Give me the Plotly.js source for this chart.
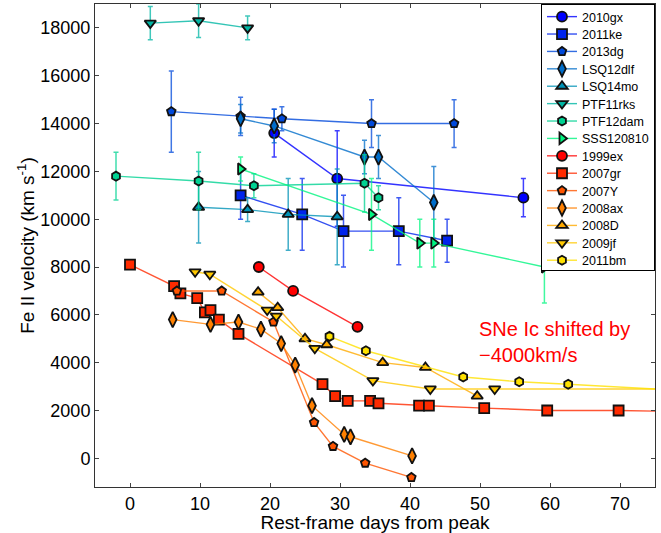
<!DOCTYPE html>
<html>
<head>
<meta charset="utf-8">
<script src="https://cdn.plot.ly/plotly-3.0.1.min.js"></script>
<style>html,body{margin:0;padding:0;background:#fff;}#chart{width:661px;height:533px;}</style>
</head>
<body>
<div id="chart"></div>
<script>
// ---- SNe Ic-BL / SLSN (upper group) ----
const gx2010_days = [20.6, 29.6, 56.2];
const gx2010_vel  = [13600, 11700, 10900];
const gx2010_err  = [1000, 2000, 800];

const ke2011_days = [15.8, 24.6, 30.5, 38.4, 45.3];
const ke2011_vel  = [11000, 10200, 9500, 9500, 9100];
const ke2011_err  = [1000, 1500, 1500, 1400, 900];

const dg2013_days = [5.9, 15.8, 21.7, 34.5, 46.3];
const dg2013_vel  = [14500, 14300, 14200, 14000, 14000];
const dg2013_err  = [1700, 800, 500, 1000, 1000];

const lsq12dlf_days = [15.8, 20.6, 33.5, 35.5, 43.4];
const lsq12dlf_vel  = [14200, 13900, 12600, 12600, 10700];
const lsq12dlf_err  = [600, 700, 700, 900, 1500];

const lsq14mo_days = [9.8, 16.8, 22.6, 29.6];
const lsq14mo_vel  = [10500, 10400, 10200, 10100];
const lsq14mo_err  = [1500, 500, 1500, 2000];

const ptf11rks_days = [2.9, 9.8, 16.8];
const ptf11rks_vel  = [18200, 18300, 18000];
const ptf11rks_err  = [700, 700, 500];

const ptf12dam_days = [-2.0, 9.8, 17.7, 33.5, 35.5];
const ptf12dam_vel  = [11800, 11600, 11400, 11500, 10900];
const ptf12dam_err  = [1000, 1200, 500, 1200, 500];

const sss120810_days = [15.8, 34.5, 41.4, 43.4, 59.2];
const sss120810_vel  = [12100, 10200, 9000, 9000, 8000];
const sss120810_err  = [500, 1500, 1000, 1000, 1500];

// ---- SNe Ic (shifted by -4000 km/s) ----
const ex1999_days = [18.4, 23.3, 32.5];
const ex1999_vel  = [8000, 7000, 5500];

const gr2007_days = [0, 6.3, 7.2, 9.6, 10.7, 11.5, 12.7, 15.5, 27.5, 29.3, 31.1, 34.3, 35.5, 41.3, 42.7, 50.6, 59.6, 69.8, 90];
const gr2007_vel  = [8100, 7200, 6900, 6700, 6100, 6200, 5800, 5200, 3100, 2600, 2400, 2400, 2300, 2200, 2200, 2100, 2000, 2000, 1900];

const y2007_days = [6.7, 13.1, 20.5, 26.3, 29.0, 33.6, 40.2];
const y2007_vel  = [7000, 7000, 5700, 1500, 500, -200, -800];

const ax2008_days = [6.1, 11.5, 15.5, 18.7, 21.6, 23.6, 26.0, 30.6, 31.5, 40.3];
const ax2008_vel  = [5800, 5600, 5700, 5400, 4800, 3900, 2200, 1000, 900, 100];

const d2008_days = [18.3, 21.1, 25.0, 28.1, 36.1, 42.2, 49.6];
const d2008_vel  = [6950, 6300, 5000, 4750, 4000, 3800, 2600];

const jf2009_days = [9.3, 11.4, 19.6, 20.9, 26.4, 34.7, 42.9, 52.1, 90];
const jf2009_vel  = [7800, 7700, 6200, 5950, 4600, 3250, 2900, 2900, 2900];

const bm2011_days = [28.5, 33.7, 47.6, 55.6, 62.6, 90];
const bm2011_vel  = [5100, 4500, 3400, 3200, 3100, 2650];

const xTicks = [0, 10, 20, 30, 40, 50, 60, 70];
const yTicks = [0, 2000, 4000, 6000, 8000, 10000, 12000, 14000, 16000, 18000];

// ---- series definitions ----
const upper = [
  {name: '2010gx',    x: gx2010_days,    y: gx2010_vel,    e: gx2010_err,    sym: 'circle',        col: [0, 0, 255]},
  {name: '2011ke',    x: ke2011_days,    y: ke2011_vel,    e: ke2011_err,    sym: 'square',        col: [0, 36, 237]},
  {name: '2013dg',    x: dg2013_days,    y: dg2013_vel,    e: dg2013_err,    sym: 'pentagon',      col: [0, 73, 219]},
  {name: 'LSQ12dlf',  x: lsq12dlf_days,  y: lsq12dlf_vel,  e: lsq12dlf_err,  sym: 'diamond-tall',  col: [0, 109, 201]},
  {name: 'LSQ14mo',   x: lsq14mo_days,   y: lsq14mo_vel,   e: lsq14mo_err,   sym: 'triangle-up',   col: [0, 146, 182]},
  {name: 'PTF11rks',  x: ptf11rks_days,  y: ptf11rks_vel,  e: ptf11rks_err,  sym: 'triangle-down', col: [0, 182, 164]},
  {name: 'PTF12dam',  x: ptf12dam_days,  y: ptf12dam_vel,  e: ptf12dam_err,  sym: 'hexagon',       col: [0, 210, 146]},
  {name: 'SSS120810', x: sss120810_days, y: sss120810_vel, e: sss120810_err, sym: 'triangle-right',col: [0, 245, 128]}
];
const lower = [
  {name: '1999ex', x: ex1999_days, y: ex1999_vel, sym: 'circle',        col: [255, 0, 0]},
  {name: '2007gr', x: gr2007_days, y: gr2007_vel, sym: 'square',        col: [255, 43, 0]},
  {name: '2007Y',  x: y2007_days,  y: y2007_vel,  sym: 'pentagon',      col: [255, 85, 0]},
  {name: '2008ax', x: ax2008_days, y: ax2008_vel, sym: 'diamond-tall',  col: [255, 128, 0]},
  {name: '2008D',  x: d2008_days,  y: d2008_vel,  sym: 'triangle-up',   col: [255, 170, 0]},
  {name: '2009jf', x: jf2009_days, y: jf2009_vel, sym: 'triangle-down', col: [255, 200, 0]},
  {name: '2011bm', x: bm2011_days, y: bm2011_vel, sym: 'hexagon',       col: [255, 225, 0]}
];

function rgb(c, a) { return a === undefined ? `rgb(${c[0]},${c[1]},${c[2]})` : `rgba(${c[0]},${c[1]},${c[2]},${a})`; }
function msize(sym) {
  if (sym === 'square') return 10;
  if (sym === 'diamond-tall') return 11;
  if (sym === 'pentagon' || sym === 'hexagon') return 9;
  return 10;
}

const traces = [];
upper.forEach(s => {
  traces.push({
    type: 'scatter', mode: 'lines+markers', name: s.name, x: s.x, y: s.y,
    error_y: {type: 'data', array: s.e, visible: true, color: rgb(s.col, 0.75), thickness: 1.5, width: 2.5},
    line: {color: rgb(s.col, 0.8), width: 1.4},
    marker: {symbol: s.sym, size: msize(s.sym), color: rgb(s.col), line: {color: '#111', width: 1.8}}
  });
});
lower.forEach(s => {
  traces.push({
    type: 'scatter', mode: 'lines+markers', name: s.name, x: s.x, y: s.y,
    line: {color: rgb(s.col, 0.8), width: 1.4},
    marker: {symbol: s.sym, size: msize(s.sym), color: rgb(s.col), line: {color: '#111', width: 1.8}}
  });
});

const font = 'Liberation Sans, Arial, sans-serif';
const layout = {
  width: 661, height: 533,
  margin: {l: 95, r: 6, t: 4, b: 46},
  paper_bgcolor: '#fff', plot_bgcolor: '#fff',
  font: {family: font, color: '#000', size: 18},
  showlegend: true,
  legend: {
    x: 1, xanchor: 'right', y: 1, yanchor: 'top',
    bgcolor: '#fff', bordercolor: '#000', borderwidth: 1,
    font: {family: font, size: 12.5, color: '#000'},
    itemwidth: 30
  },
  xaxis: {
    range: [-5, 75], tickvals: xTicks, ticktext: xTicks.map(String),
    ticks: 'inside', ticklen: 4, tickcolor: '#444', showline: true, linecolor: '#333', linewidth: 1,
    mirror: 'ticks', showgrid: false, zeroline: false,
    tickfont: {size: 18},
    title: {text: 'Rest-frame days from peak', font: {size: 19}, standoff: 4}
  },
  yaxis: {
    range: [-1200, 19000], tickvals: yTicks, ticktext: yTicks.map(String),
    ticks: 'inside', ticklen: 4, tickcolor: '#444', showline: true, linecolor: '#333', linewidth: 1,
    mirror: 'ticks', showgrid: false, zeroline: false,
    tickfont: {size: 18},
    title: {text: 'Fe II velocity (km s<sup>-1</sup>)', font: {size: 19}, standoff: 0}
  },
  annotations: [{
    xref: 'x', yref: 'y', x: 49.6, y: 5950, xanchor: 'left', yanchor: 'top', align: 'left',
    text: 'SNe Ic shifted by<br>\u22124000km/s', showarrow: false,
    font: {family: font, size: 20, color: 'rgb(255,0,0)'}
  }]
};

// tighten legend row spacing to match the reference (~17.4 px per entry)
function tightenLegend(gd) {
  const items = gd.querySelectorAll('.legend .traces');
  if (items.length < 2) return;
  const parse = el => {
    const m = /translate\(\s*([-\d.e]+)[ ,]+([-\d.e]+)/.exec(el.getAttribute('transform') || '');
    return m ? [parseFloat(m[1]), parseFloat(m[2])] : [0, 0];
  };
  const p0 = parse(items[0]), p1 = parse(items[1]);
  const orig = p1[1] - p0[1];
  const step = 17.4;
  const top = p0[1] - 3;
  items.forEach((el, i) => {
    const p = parse(el);
    el.setAttribute('transform', `translate(${p[0]},${top + i * step})`);
  });
  const bg = gd.querySelector('.legend .bg');
  if (bg) {
    const h = parseFloat(bg.getAttribute('height'));
    bg.setAttribute('height', h - (items.length - 1) * (orig - step) - 8);
  }
}

Plotly.newPlot('chart', traces, layout, {displayModeBar: false, staticPlot: true}).then(tightenLegend);
</script>
</body>
</html>
